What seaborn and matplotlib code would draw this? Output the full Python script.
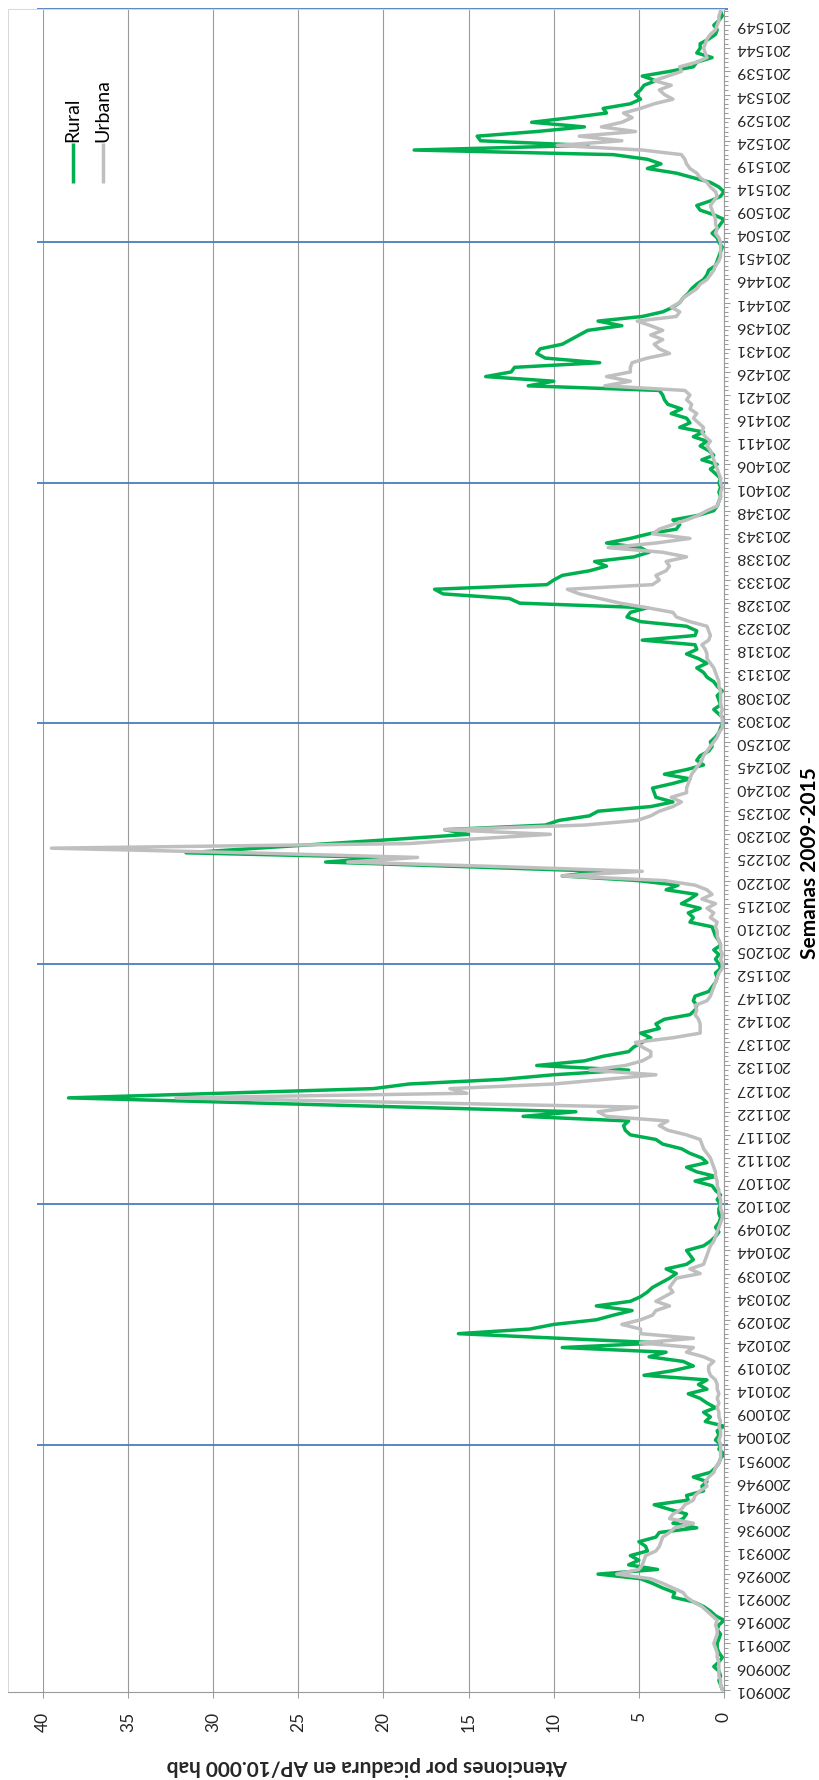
import numpy as np
import matplotlib
matplotlib.use("Agg")
import matplotlib.pyplot as plt
import seaborn as sns
from matplotlib.lines import Line2D

# Weekly consultations for insect bites in primary care (per 10,000 inhabitants)
years = [2009, 2010, 2011, 2012, 2013, 2014, 2015]

rural_2009 = [0.1, 0.2, 0.3, 0.2, 0.3, 0.6, 0.3, 0.1, 0.3, 0.4,
              0.4, 0.3, 0.2, 0.4, 0.3, 0.0, 0.5, 0.8, 1.2, 1.8,
              3.0, 2.9, 3.6, 4.2, 4.9, 7.4, 3.9, 5.6, 5.0, 5.5,
              4.5, 4.6, 5.0, 4.0, 3.8, 1.6, 3.0, 2.4, 2.2, 3.2,
              4.1, 2.1, 2.2, 1.2, 1.3, 1.0, 1.8, 0.8, 0.5, 0.3,
              0.2, 0.0]
rural_2010 = [0.3, 0.2, 0.5, 0.3, 0.4, 0.0, 1.1, 0.8, 1.2, 0.5,
              1.0, 1.4, 2.1, 1.0, 1.5, 1.0, 4.7, 3.0, 1.8, 2.4,
              4.4, 3.4, 9.5, 3.7, 9.6, 15.6, 11.4, 10.0, 7.5, 6.5,
              5.4, 7.5, 5.5, 4.9, 4.5, 4.2, 3.7, 3.2, 2.8, 3.4,
              2.2, 1.8, 2.0, 2.2, 1.2, 0.8, 0.5, 0.3, 0.5, 0.3,
              0.2, 0.3]
rural_2011 = [0.3, 0.2, 0.4, 0.2, 0.5, 0.7, 1.7, 0.5, 1.6, 2.2,
              1.0, 1.3, 2.0, 2.5, 3.6, 4.0, 5.5, 5.8, 5.9, 5.6,
              11.8, 8.7, 18.6, 28.6, 38.5, 29.5, 20.6, 18.5, 13.0, 10.0,
              5.6, 11.0, 8.2, 7.1, 5.6, 5.3, 4.8, 4.3, 4.9, 3.8,
              4.0, 3.5, 2.0, 1.7, 1.6, 1.8, 1.7, 0.9, 0.7, 0.5,
              0.4, 0.5]
rural_2012 = [0.2, 0.3, 0.5, 0.3, 0.6, 0.2, 0.3, 0.5, 0.6, 0.7,
              2.0, 1.8, 2.1, 1.4, 2.5, 2.0, 1.6, 3.4, 2.7, 5.1,
              9.5, 7.1, 15.2, 23.4, 19.8, 31.6, 27.4, 23.2, 19.0, 15.0,
              16.4, 10.5, 9.7, 7.9, 7.4, 4.3, 3.0, 4.0, 4.1, 4.2,
              3.0, 2.0, 3.5, 2.2, 1.2, 1.6, 1.4, 0.9, 0.7, 0.8,
              0.5, 0.3]
rural_2013 = [0.2, 0.1, 0.0, 0.3, 0.6, 0.2, 0.3, 0.4, 0.1, 0.4,
              0.6, 1.0, 1.2, 1.6, 1.0, 1.5, 2.2, 1.6, 1.7, 4.8,
              1.7, 1.6, 2.2, 4.9, 5.7, 5.5, 4.5, 12.0, 12.6, 16.5,
              17.0, 10.4, 10.0, 9.5, 7.9, 6.9, 7.6, 5.3, 4.4, 4.9,
              6.9, 5.5, 4.4, 2.8, 2.6, 3.0, 1.5, 0.6, 0.4, 0.3,
              0.2, 0.3]
rural_2014 = [0.2, 0.3, 0.2, 0.5, 0.8, 0.4, 1.3, 0.6, 0.9, 1.4,
              1.0, 1.8, 1.2, 2.6, 2.0, 2.2, 3.1, 2.5, 3.3, 3.5,
              3.6, 3.8, 11.5, 10.0, 14.0, 12.5, 12.3, 7.3, 10.5, 11.0,
              10.8, 9.5, 9.0, 8.5, 8.0, 6.0, 7.4, 4.8, 3.6, 3.0,
              2.6, 2.4, 2.1, 1.9, 1.6, 1.2, 1.0, 0.9, 0.5, 0.4,
              0.3, 0.2]
rural_2015 = [0.1, 0.3, 0.4, 0.7, 0.4, 0.2, 0.0, 0.6, 1.4, 1.6,
              0.8, 0.2, 0.0, 0.3, 0.8, 1.8, 2.8, 4.5, 3.7, 4.5,
              6.5, 18.2, 8.0, 14.3, 14.5, 11.0, 8.2, 11.3, 9.0, 6.9,
              7.1, 5.5, 4.9, 5.2, 4.9, 4.7, 4.0, 4.8, 3.2, 1.8,
              1.6, 0.7, 1.6, 1.4, 1.4, 0.9, 0.5, 0.4, 0.6, 0.3,
              0.1, 0.2]

urban_2009 = [0.1, 0.2, 0.2, 0.3, 0.3, 0.3, 0.3, 0.4, 0.4, 0.5,
              0.6, 0.5, 0.4, 0.4, 0.5, 0.4, 0.7, 1.0, 1.3, 1.8,
              2.2, 2.4, 3.0, 3.6, 4.3, 6.3, 5.0, 4.8, 4.7, 4.6,
              4.0, 3.8, 3.7, 3.6, 3.2, 2.9, 1.8, 3.2, 3.0, 2.5,
              2.3, 1.8, 1.7, 1.4, 1.0, 1.1, 0.9, 0.6, 0.5, 0.3,
              0.2, 0.2]
urban_2010 = [0.2, 0.2, 0.3, 0.2, 0.2, 0.3, 0.2, 0.3, 0.3, 0.4,
              0.3, 0.4, 0.3, 0.4, 0.4, 0.5, 0.8, 0.9, 0.9, 0.6,
              1.2, 2.2, 1.8, 4.9, 1.8, 4.9, 4.9, 6.0, 4.9, 4.2,
              4.0, 3.2, 4.0, 3.5, 3.0, 3.2, 3.0, 2.8, 1.4, 2.0,
              1.2, 1.1, 1.0, 0.9, 0.8, 0.6, 0.5, 0.4, 0.3, 0.2,
              0.1, 0.1]
urban_2011 = [0.2, 0.2, 0.2, 0.3, 0.3, 0.4, 0.4, 0.5, 0.5, 0.6,
              0.7, 0.8, 1.0, 1.2, 1.3, 1.4, 2.2, 3.3, 3.8, 3.3,
              6.9, 7.4, 5.1, 18.6, 32.2, 15.1, 16.1, 10.0, 7.0, 4.0,
              7.9, 5.8, 4.8, 4.3, 4.3, 4.8, 5.2, 3.0, 1.4, 1.4,
              1.4, 1.5, 1.7, 1.6, 1.7, 1.0, 0.8, 0.7, 0.6, 0.5,
              0.4, 0.3]
urban_2012 = [0.1, 0.1, 0.2, 0.1, 0.2, 0.2, 0.3, 0.4, 0.4, 0.5,
              0.4, 0.8, 0.6, 1.0, 0.5, 1.3, 0.7, 1.0, 1.7, 3.5,
              9.5, 4.8, 13.0, 22.1, 18.0, 28.0, 39.5, 18.5, 14.7, 10.2,
              16.4, 8.2, 5.1, 4.3, 3.8, 3.0, 2.5, 3.1, 2.2, 2.2,
              2.1, 2.0, 1.9, 1.7, 1.5, 1.3, 1.2, 1.0, 0.8, 0.6,
              0.4, 0.3]
urban_2013 = [0.1, 0.1, 0.1, 0.2, 0.1, 0.2, 0.2, 0.2, 0.2, 0.3,
              0.3, 0.4, 0.5, 0.6, 0.8, 1.0, 1.0, 1.1, 1.3, 0.9,
              0.8, 0.9, 1.0, 2.0, 2.8, 3.0, 4.5, 6.1, 7.3, 8.5,
              9.2, 4.2, 3.8, 4.0, 3.4, 3.2, 3.4, 2.2, 3.6, 6.8,
              4.0, 2.0, 4.2, 3.8, 3.0, 2.2, 1.5, 1.0, 0.4, 0.3,
              0.2, 0.2]
urban_2014 = [0.1, 0.2, 0.2, 0.3, 0.4, 0.5, 0.6, 0.7, 0.8, 1.0,
              0.8, 1.1, 1.3, 1.2, 1.5, 1.8, 1.6, 2.0, 1.9, 2.2,
              2.0, 2.3, 7.0, 5.5, 6.9, 5.5, 5.5, 5.4, 4.5, 3.2,
              3.8, 4.1, 3.6, 4.3, 3.6, 4.3, 5.1, 2.8, 2.6, 3.1,
              2.6, 2.4, 2.0, 1.6, 1.4, 1.0, 0.8, 0.6, 0.5, 0.3,
              0.2, 0.2]
urban_2015 = [0.2, 0.2, 0.3, 0.5, 0.4, 0.5, 0.5, 0.6, 0.7, 0.8,
              0.6, 0.4, 0.5, 0.8, 1.0, 1.4, 1.6, 2.0, 2.2, 2.3,
              2.5, 4.8, 9.8, 6.0, 8.5, 5.2, 7.2, 6.0, 5.4, 5.9,
              4.9, 4.1, 3.0, 3.5, 3.8, 3.1, 4.1, 3.3, 2.5, 2.6,
              1.6, 1.0, 1.1, 1.2, 1.1, 1.0, 0.8, 0.5, 0.4, 0.3,
              0.3, 0.2]

series_names = ["Rural", "Urbana"]
value_ticks = [0, 5, 10, 15, 20, 25, 30, 35, 40]

# Week codes (YYYYWW), 52 weeks per year
weeks = [f"{y}{w:02d}" for y in years for w in range(1, 53)]
rural = np.concatenate([rural_2009, rural_2010, rural_2011, rural_2012,
                        rural_2013, rural_2014, rural_2015])
urban = np.concatenate([urban_2009, urban_2010, urban_2011, urban_2012,
                        urban_2013, urban_2014, urban_2015])
idx = np.arange(len(weeks))

sns.set_style("white")
plt.rcParams["font.family"] = ["Lato", "DejaVu Sans"]
plt.rcParams["text.color"] = "black"

GREEN = "#00b050"
GREY_LINE = "#bfbfbf"
AXIS = "#9a9a9a"
GRID = "#9a9a9a"
BORDER = "#d9d9d9"
BLUE = "#4a7ebb"

W, H = 820, 1780
fig = plt.figure(figsize=(W / 100, H / 100), dpi=100)
left_px, right_px, top_px, bottom_px = 43, 724, 9, 1692
ax = fig.add_axes([left_px / W, 1 - bottom_px / H,
                   (right_px - left_px) / W, (bottom_px - top_px) / H])

vmax = max(value_ticks)
ax.set_xlim(vmax, 0)
ax.set_ylim(-0.5, len(weeks) - 0.5)

# value gridlines
ax.set_xticks(value_ticks)
ax.grid(axis="x", color=GRID, lw=0.8)
ax.grid(axis="y", visible=False)
ax.set_axisbelow(True)

# year separators
year_starts = [weeks.index(f"{y}01") for y in years[1:]]
separators = [s + 1 for s in year_starts] + [len(weeks) - 0.5]
ax.hlines(separators, vmax + 0.35, -0.25, colors=BLUE, lw=1.3,
          clip_on=False, zorder=1.5)

for vals, color in [(rural, GREEN), (urban, GREY_LINE)]:
    sns.lineplot(x=vals, y=idx, orient="y", sort=False, estimator=None,
                 color=color, lw=2.5, ax=ax, legend=False, zorder=3)
for ln in ax.get_lines():
    ln.set_solid_joinstyle("round")

# week axis on the right
ax.yaxis.tick_right()
ax.set_yticks(idx[::5])
ax.set_yticklabels(weeks[::5])
ax.set_yticks(idx, minor=True)
ax.tick_params(axis="y", which="major", direction="out", length=4.3,
               width=0.75, color=AXIS, pad=4, labelsize=11.3,
               labelrotation=180)
ax.tick_params(axis="y", which="minor", direction="out", length=2.9,
               width=0.75, color=AXIS)
for lab in ax.get_yticklabels():
    lab.set_va("center")

ax.tick_params(axis="x", which="major", direction="out", length=4.3,
               width=0.75, color=AXIS, pad=10, labelsize=12.5,
               labelrotation=90, bottom=True)

for s in ["left", "top"]:
    ax.spines[s].set_visible(False)
for s in ["bottom", "right"]:
    ax.spines[s].set_color(AXIS)
    ax.spines[s].set_linewidth(0.8)

ax.set_xlabel("Atenciones por picadura en AP/10.000 hab", fontsize=15,
              fontweight="bold", rotation=180)
ax.xaxis.set_label_coords(0.477, -0.044)
ax.xaxis.label.set_va("center")

# week-axis title, placed in figure pixels
fig.text(810 / W, 1 - 863 / H, "Semanas 2009-2015", fontsize=15,
         fontweight="bold", rotation=90, ha="center", va="center")

# legend, turned with the chart
for xf, color, name in [(0.044, GREEN, series_names[0]),
                        (0.088, GREY_LINE, series_names[1])]:
    ax.plot([xf, xf], [0.8966, 0.9204], transform=ax.transAxes, color=color,
            lw=2.5, solid_capstyle="butt", clip_on=False)
    ax.text(xf, 0.921, name, transform=ax.transAxes, rotation=90,
            ha="center", va="bottom", fontsize=14)

# chart frame
fig.add_artist(Line2D([8 / W, 8 / W, right_px / W],
                      [1 - bottom_px / H, 1 - top_px / H, 1 - top_px / H],
                      transform=fig.transFigure, color=BORDER, lw=0.75))
fig.add_artist(Line2D([8 / W, left_px / W], [1 - bottom_px / H] * 2,
                      transform=fig.transFigure, color=AXIS, lw=0.8))

fig.savefig("out.png", dpi=100)
